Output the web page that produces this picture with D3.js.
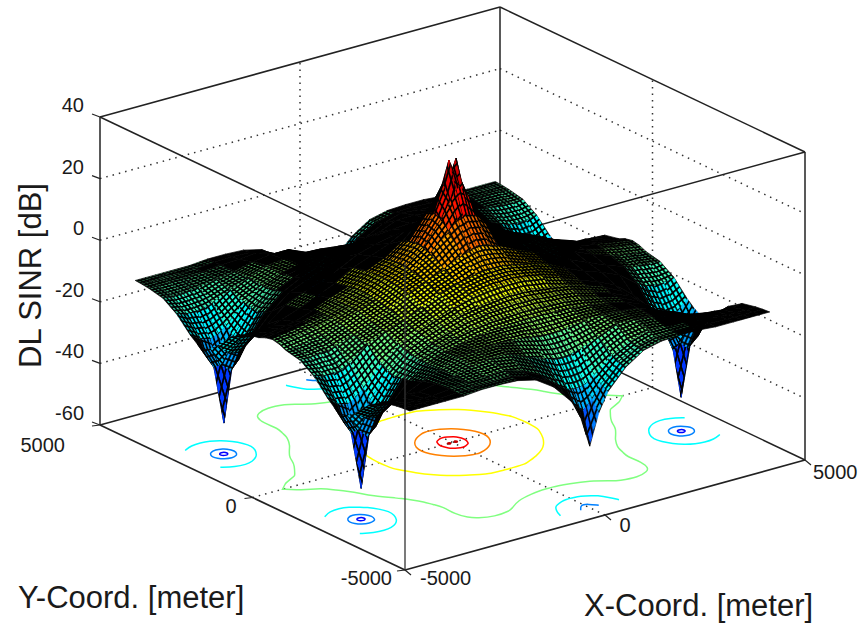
<!DOCTYPE html>
<html>
<head>
<meta charset="utf-8">
<script src="https://cdnjs.cloudflare.com/ajax/libs/d3/7.8.5/d3.min.js"></script>
<style>
  html, body { margin: 0; padding: 0; background: #fff; }
  text { font-family: "Liberation Sans", Arial, sans-serif; fill: #1a1a1a; }
</style>
</head>
<body>
<svg id="sketch" width="865" height="623"></svg>
<script>
// grid nodes of the surface, finer around the spikes (meter)
const xNodes = [-4500,-4250,-4000,-3800,-3600,-3150,-2700,-2250,-1800,-1350,-900,-450,-225,-90,0,90,225,450,900,1350,1800,2250,2700,3150,3600,3800,4000,4250,4500];
const yNodes = [-4500,-4275,-4050,-3600,-3150,-2700,-2475,-2250,-2025,-1800,-1350,-900,-450,-225,0,225,450,900,1350,1800,2025,2250,2475,2700,3150,3600,4050,4275,4500];

// DL SINR [dB], one row per yNodes entry
const sinrRows = [
[-12.5,-12.5,-12.5,-12.5,-12.5,-12.5,-12,-12,-12.3,-13.7,-17.6,-24,-30,-36,-40,-36,-30,-24,-17.6,-13.7,-12.3,-12,-12,-12.5,-12.5,-12.5,-12.5,-12.5,-12.5],
[-12.7,-12.7,-12.7,-12.7,-12.7,-12.5,-12,-11.8,-12,-13.5,-16.8,-22.7,-26.6,-28.6,-29.6,-28.6,-26.6,-22.7,-16.8,-13.5,-12,-11.8,-12,-12.5,-12.7,-12.7,-12.7,-12.7,-12.7],
[-13,-13,-13,-13,-12.9,-12.4,-11.8,-11.5,-11,-12.9,-15.8,-20.7,-23,-23.4,-23.5,-23.4,-23,-20.7,-15.8,-12.9,-11,-11.5,-11.8,-12.4,-12.9,-13,-13,-13,-13],
[-14,-14.4,-14.3,-14,-13.8,-12.7,-11.8,-10.2,-9.5,-9.5,-12,-14.3,-15.2,-15.4,-15.5,-15.4,-15.2,-14.3,-12,-9.5,-9.5,-10.2,-11.8,-12.7,-13.8,-14,-14.3,-14.4,-14],
[-17,-18,-18,-17.7,-16.7,-14,-11.8,-9.5,-8.8,-8.5,-8.8,-9.5,-9.9,-10,-10,-10,-9.9,-9.5,-8.8,-8.5,-8.8,-9.5,-11.8,-14,-16.7,-17.7,-18,-18,-17],
[-21.7,-24,-25,-24,-22,-16,-12,-9.8,-8.5,-7.5,-6.8,-6.6,-6.5,-6.5,-6.5,-6.5,-6.5,-6.6,-6.8,-7.5,-8.5,-9.8,-12,-16,-22,-24,-25,-24,-21.7],
[-23.5,-29,-32,-29.5,-24.5,-16.7,-12,-9.2,-7.8,-6.4,-5.5,-5.3,-5,-5,-5,-5,-5,-5.3,-5.5,-6.4,-7.8,-9.2,-12,-16.7,-24.5,-29.5,-32,-29,-23.5],
[-24.5,-31,-50,-33,-26,-17,-11.5,-9,-7,-5.2,-4.3,-3.7,-3.5,-3.5,-3.5,-3.5,-3.5,-3.7,-4.3,-5.2,-7,-9,-11.5,-17,-26,-33,-49,-31,-24.5],
[-23,-29,-32,-29,-24,-16,-11,-8,-6,-4.2,-3.2,-2.4,-2,-2,-2,-2,-2,-2.4,-3.2,-4.2,-6,-8,-11,-16,-24,-29,-32,-29,-23],
[-21,-24,-25,-23.5,-21,-14.8,-10,-7.4,-5.2,-3.2,-1,0,0.2,0.2,0.3,0.2,0.2,0,-1,-3.2,-5.2,-7.4,-10,-14.8,-21,-23.5,-25,-24,-21],
[-16,-17,-17,-16.5,-15,-10.5,-8,-6,-3.5,-0.5,1.2,2.5,3,3,3,3,3,2.5,1.2,-0.5,-3.5,-6,-8,-10.5,-15,-16.5,-17,-17,-16],
[-13,-13,-12.5,-12.5,-11.5,-9.5,-7,-4.5,-1,1.2,3.5,6.5,7.5,8,8,8,7.5,6.5,3.5,1.2,-1,-4.5,-7,-9.5,-11.5,-12.5,-12.5,-13,-13],
[-12,-11.5,-11,-10.5,-10,-8,-5.5,-3.5,0,2.5,6.5,12,15,15.5,16,15.5,15,12,6.5,2.5,0,-3.5,-5.5,-8,-10,-10.5,-11,-11.5,-12],
[-11,-10.5,-10,-9.5,-9,-7.5,-5.5,-3,0.2,3,7.5,15,20,23,24,23,20,15,7.5,3,0.2,-3,-5.5,-7.5,-9,-9.5,-10,-10.5,-11],
[-10.5,-10,-9.5,-9,-8.5,-7.5,-5.5,-3,0.3,3,8,16,24,32,29,32,24,16,8,3,0.3,-3,-5.5,-7.5,-8.5,-9,-9.5,-10,-10.5],
[-11,-10.5,-10,-9.5,-9,-7.5,-5.5,-3,0.2,3,7.5,15,20,23,24,23,20,15,7.5,3,0.2,-3,-5.5,-7.5,-9,-9.5,-10,-10.5,-11],
[-12,-11.5,-11,-10.5,-10,-8,-5.5,-3.5,0,2.5,6.5,12,15,15.5,16,15.5,15,12,6.5,2.5,0,-3.5,-5.5,-8,-10,-10.5,-11,-11.5,-12],
[-13,-13,-12.5,-12.5,-11.5,-9.5,-7,-4.5,-1,1.2,3.5,6.5,7.5,8,8,8,7.5,6.5,3.5,1.2,-1,-4.5,-7,-9.5,-11.5,-12.5,-12.5,-13,-13],
[-16,-17,-17,-16.5,-15,-10.5,-8,-6,-3.5,-0.5,1.2,2.5,3,3,3,3,3,2.5,1.2,-0.5,-3.5,-6,-8,-10.5,-15,-16.5,-17,-17,-16],
[-21,-24,-25,-23.5,-21,-14.8,-10,-7.4,-5.2,-3.2,-1,0,0.2,0.2,0.3,0.2,0.2,0,-1,-3.2,-5.2,-7.4,-10,-14.8,-21,-23.5,-25,-24,-21],
[-23,-29,-32,-29,-24,-16,-11,-8,-6,-4.2,-3.2,-2.4,-2,-2,-2,-2,-2,-2.4,-3.2,-4.2,-6,-8,-11,-16,-24,-29,-32,-29,-23],
[-24.5,-31,-50,-33,-26,-17,-11.5,-9,-7,-5.2,-4.3,-3.7,-3.5,-3.5,-3.5,-3.5,-3.5,-3.7,-4.3,-5.2,-7,-9,-11.5,-17,-26,-33,-50,-31,-24.5],
[-23.5,-29,-32,-29.5,-24.5,-16.7,-12,-9.2,-7.8,-6.4,-5.5,-5.3,-5,-5,-5,-5,-5,-5.3,-5.5,-6.4,-7.8,-9.2,-12,-16.7,-24.5,-29.5,-32,-29,-23.5],
[-21.7,-24,-25,-24,-22,-16,-12,-9.8,-8.5,-7.5,-6.8,-6.6,-6.5,-6.5,-6.5,-6.5,-6.5,-6.6,-6.8,-7.5,-8.5,-9.8,-12,-16,-22,-24,-25,-24,-21.7],
[-17,-18,-18,-17.7,-16.7,-14,-11.8,-9.5,-8.8,-8.5,-8.8,-9.5,-9.9,-10,-10,-10,-9.9,-9.5,-8.8,-8.5,-8.8,-9.5,-11.8,-14,-16.7,-17.7,-18,-18,-17],
[-14,-14.4,-14.3,-14,-13.8,-12.7,-11.8,-10.2,-9.5,-9.5,-12,-14.3,-15.2,-15.4,-15.5,-15.4,-15.2,-14.3,-12,-9.5,-9.5,-10.2,-11.8,-12.7,-13.8,-14,-14.3,-14.4,-14],
[-13,-13,-13,-13,-12.9,-12.4,-11.8,-11.5,-11,-12.9,-15.8,-20.7,-23,-23.4,-23.5,-23.4,-23,-20.7,-15.8,-12.9,-11,-11.5,-11.8,-12.4,-12.9,-13,-13,-13,-13],
[-12.7,-12.7,-12.7,-12.7,-12.7,-12.5,-12,-11.8,-12,-13.5,-16.8,-22.7,-26.6,-28.6,-29.6,-28.6,-26.6,-22.7,-16.8,-13.5,-12,-11.8,-12,-12.5,-12.7,-12.7,-12.7,-12.7,-12.7],
[-12.5,-12.5,-12.5,-12.5,-12.5,-12.5,-12,-12,-12.3,-13.7,-17.6,-24,-30,-36,-40,-36,-30,-24,-17.6,-13.7,-12.3,-12,-12,-12.5,-12.5,-12.5,-12.5,-12.5,-12.5]
];

const zTicks = [-60,-40,-20,0,20,40];
const xyTicks = [-5000,0,5000];
const contourLevels = [-40,-30,-20,-10,0,10,20,30];
const jetLevels = [-50,-40,-20,0,20,40];
const jetColors = ['#00008f','#0000ff','#00ffff','#ffff00','#ff0000','#800000'];

// one mesh line every 90 m, as far as can be seen on the picture
const meshStep = 90;
const meshLineWidth = 1.75;
const minHole = 16;

// orthographic box: front floor corner is (405,570)
const xToSx = d3.scaleLinear().domain([-5000,5000]).range([405,805]);
const yToSx = d3.scaleLinear().domain([-5000,5000]).range([0,-305]);
const xToSy = d3.scaleLinear().domain([-5000,5000]).range([570,460]);
const yToSy = d3.scaleLinear().domain([-5000,5000]).range([0,-145]);
const zToSy = d3.scaleLinear().domain([-60,40]).range([0,-308]);
const zColor = d3.scaleLinear().domain(jetLevels).range(jetColors).clamp(true);

function project (x, y, z) {
    return [xToSx(x) + yToSx(y), xToSy(x) + yToSy(y) + zToSy(z)];
}

function seg (a, b) {
    return { x1: a[0], y1: a[1], x2: b[0], y2: b[1] };
}

function drawLines (g, cls, data, stroke, width, dash) {
    g.selectAll('line.' + cls)
        .data(data)
        .enter()
        .append('line')
        .attr('class', cls)
        .attr('x1', (d) => { return d.x1; })
        .attr('y1', (d) => { return d.y1; })
        .attr('x2', (d) => { return d.x2; })
        .attr('y2', (d) => { return d.y2; })
        .attr('stroke', stroke)
        .attr('stroke-width', width)
        .attr('stroke-dasharray', dash || null);
}

function drawBackWalls (svg) {
    let g = svg.append('g').attr('class', 'walls');
    let dotted = [];

    zTicks.slice(1, -1).forEach((z) => {
        dotted.push(seg(project(-5000, 5000, z), project(5000, 5000, z)));
        dotted.push(seg(project(5000, 5000, z), project(5000, -5000, z)));
    });
    dotted.push(seg(project(0, 5000, -60), project(0, 5000, 40)));
    dotted.push(seg(project(5000, 0, -60), project(5000, 0, 40)));
    dotted.push(seg(project(0, -5000, -60), project(0, 5000, -60)));
    dotted.push(seg(project(-5000, 0, -60), project(5000, 0, -60)));
    drawLines(g, 'grid', dotted, '#333', 1.5, '1.5 5');

    let solid = [
        seg(project(-5000, 5000, -60), project(5000, 5000, -60)),
        seg(project(5000, 5000, -60), project(5000, -5000, -60)),
        seg(project(-5000, 5000, 40), project(5000, 5000, 40)),
        seg(project(5000, 5000, 40), project(5000, -5000, 40)),
        seg(project(5000, 5000, -60), project(5000, 5000, 40)),
        seg(project(-5000, 5000, -60), project(-5000, 5000, 40)),
        seg(project(5000, -5000, -60), project(5000, -5000, 40)),
        seg(project(-5000, -5000, 40), project(-5000, 5000, 40)),
        seg(project(-5000, -5000, 40), project(5000, -5000, 40))
    ];
    drawLines(g, 'edge', solid, '#222', 1.5);
}

function drawContours (svg) {
    let g = svg.append('g').attr('class', 'contours');
    let nx = xNodes.length;
    let ny = yNodes.length;
    let xAt = d3.scaleLinear().domain(d3.range(nx)).range(xNodes).clamp(true);
    let yAt = d3.scaleLinear().domain(d3.range(ny)).range(yNodes).clamp(true);
    let sets = d3.contours().size([nx, ny]).thresholds(contourLevels)(sinrRows.flat());
    let open = d3.line().curve(d3.curveBasis);
    let closed = d3.line().curve(d3.curveBasisClosed);

    sets.forEach((set) => {
        let paths = [];
        set.coordinates.forEach((poly) => {
            poly.forEach((ring) => {
                // the library closes rings along the grid border, those parts are no contour
                let onBorder = (p) => { return p[0] <= 0 || p[0] >= nx || p[1] <= 0 || p[1] >= ny; };
                let toScreen = (p) => { return project(xAt(p[0] - 0.5), yAt(p[1] - 0.5), -60); };
                if (!ring.some(onBorder)) {
                    paths.push(closed(ring.slice(0, -1).map(toScreen)));
                    return;
                }
                let start = ring.findIndex(onBorder);
                let piece = [];
                for (let k = 0; k <= ring.length; k++) {
                    let p = ring[(start + k) % ring.length];
                    if (onBorder(p)) {
                        if (piece.length > 1) paths.push(open(piece));
                        piece = [];
                    } else {
                        piece.push(toScreen(p));
                    }
                }
            });
        });
        g.selectAll(null)
            .data(paths)
            .enter()
            .append('path')
            .attr('d', (d) => { return d; })
            .attr('fill', 'none')
            .attr('stroke', zColor(set.value))
            .attr('stroke-width', 1.5);
    });
}

function makeCells () {
    let cells = [];
    // far corner first, nearer cells paint over it
    for (let j = yNodes.length - 2; j >= 0; j--) {
        for (let i = xNodes.length - 2; i >= 0; i--) {
            let p00 = project(xNodes[i], yNodes[j], sinrRows[j][i]);
            let p10 = project(xNodes[i + 1], yNodes[j], sinrRows[j][i + 1]);
            let p11 = project(xNodes[i + 1], yNodes[j + 1], sinrRows[j + 1][i + 1]);
            let p01 = project(xNodes[i], yNodes[j + 1], sinrRows[j + 1][i]);
            let n = (xNodes[i + 1] - xNodes[i]) / meshStep;
            let m = (yNodes[j + 1] - yNodes[j]) / meshStep;
            // one mesh square of this cell, as it lands on the screen
            let ax = (p10[0] - p00[0] + p11[0] - p01[0]) / 2 / n;
            let ay = (p10[1] - p00[1] + p11[1] - p01[1]) / 2 / n;
            let bx = (p01[0] - p00[0] + p11[0] - p10[0]) / 2 / m;
            let by = (p01[1] - p00[1] + p11[1] - p10[1]) / 2 / m;
            let det = Math.abs(ax * by - ay * bx);
            let holeA = 1 - meshLineWidth * Math.hypot(bx, by) / det;
            let holeB = 1 - meshLineWidth * Math.hypot(ax, ay) / det;
            cells.push({
                id: 'm' + i + '_' + j,
                pts: [p00, p10, p11, p01],
                z: (sinrRows[j][i] + sinrRows[j][i + 1] + sinrRows[j + 1][i + 1] + sinrRows[j + 1][i]) / 4,
                matrix: [ax / 100, ay / 100, bx / 100, by / 100, p00[0], p00[1]].join(' '),
                holeA: Math.max(0, holeA) * 100,
                holeB: Math.max(0, holeB) * 100
            });
        }
    }
    return cells;
}

function drawSurface (svg) {
    let cells = makeCells();
    let points = (d) => { return d.pts.map((p) => { return p.join(','); }).join(' '); };
    let hasHoles = (d) => { return d.holeA > minHole && d.holeB > minHole; };
    let paint = (d) => { return hasHoles(d) ? 'url(#' + d.id + ')' : '#000'; };

    let patterns = svg.append('defs').selectAll('pattern')
        .data(cells.filter(hasHoles))
        .enter()
        .append('pattern')
        .attr('id', (d) => { return d.id; })
        .attr('patternUnits', 'userSpaceOnUse')
        .attr('width', 100)
        .attr('height', 100)
        .attr('patternTransform', (d) => { return 'matrix(' + d.matrix + ')'; });

    patterns.append('rect')
        .attr('width', 100)
        .attr('height', 100)
        .attr('fill', '#000');

    patterns.append('rect')
        .attr('x', (d) => { return 50 - d.holeA / 2; })
        .attr('y', (d) => { return 50 - d.holeB / 2; })
        .attr('width', (d) => { return d.holeA; })
        .attr('height', (d) => { return d.holeB; })
        .attr('fill', (d) => { return zColor(d.z); });

    svg.append('g').attr('class', 'surface')
        .selectAll('polygon.cell')
        .data(cells)
        .enter()
        .append('polygon')
        .attr('class', 'cell')
        .attr('points', points)
        .attr('fill', paint)
        .attr('stroke', paint)
        .attr('stroke-width', 0.7);
}

function drawFrontEdges (svg) {
    let g = svg.append('g').attr('class', 'front');
    let edges = [
        seg(project(-5000, -5000, -60), project(-5000, 5000, -60)),
        seg(project(-5000, -5000, -60), project(5000, -5000, -60))
    ];
    drawLines(g, 'edge', edges, '#222', 1.7);
    drawLines(g, 'post', [seg(project(-5000, -5000, -60), project(-5000, -5000, 40))], '#333', 1.3);

    let ticks = [];
    zTicks.forEach((z) => {
        let p = project(-5000, 5000, z);
        ticks.push(seg(p, [p[0] - 8, p[1] - 3]));
    });
    xyTicks.forEach((v) => {
        let p = project(-5000, v, -60);
        ticks.push(seg(p, [p[0] - 8, p[1] + 1]));
        let q = project(v, -5000, -60);
        ticks.push(seg(q, [q[0] + 6, q[1] + 5]));
    });
    drawLines(g, 'tick', ticks, '#222', 1.2);
}

function drawLabels (svg) {
    let g = svg.append('g').attr('class', 'labels');
    // the floor tick labels do not keep one distance to their tick in the picture
    let yLabelDx = [-13, -16, -35];
    let yLabelDy = [15, 15, 27];
    let xLabelDx = [15, 14.5, 8];
    let xLabelDy = [15, 17, 19];

    g.selectAll('text.ztick')
        .data(zTicks)
        .enter()
        .append('text')
        .attr('class', 'ztick')
        .attr('x', 84)
        .attr('y', (d) => { return project(-5000, 5000, d)[1] - 5; })
        .attr('text-anchor', 'end')
        .attr('font-size', 20)
        .text((d) => { return d; });

    g.selectAll('text.ytick')
        .data(xyTicks)
        .enter()
        .append('text')
        .attr('class', 'ytick')
        .attr('x', (d, i) => { return project(-5000, d, -60)[0] + yLabelDx[i]; })
        .attr('y', (d, i) => { return project(-5000, d, -60)[1] + yLabelDy[i]; })
        .attr('text-anchor', 'end')
        .attr('font-size', 20)
        .text((d) => { return d; });

    g.selectAll('text.xtick')
        .data(xyTicks)
        .enter()
        .append('text')
        .attr('class', 'xtick')
        .attr('x', (d, i) => { return project(d, -5000, -60)[0] + xLabelDx[i]; })
        .attr('y', (d, i) => { return project(d, -5000, -60)[1] + xLabelDy[i]; })
        .attr('font-size', 20)
        .text((d) => { return d; });

    g.append('text')
        .attr('transform', 'translate(41,275.5) rotate(-90)')
        .attr('text-anchor', 'middle')
        .attr('font-size', 31)
        .text('DL SINR [dB]');

    g.append('text')
        .attr('x', 18)
        .attr('y', 608)
        .attr('font-size', 31)
        .text('Y-Coord. [meter]');

    g.append('text')
        .attr('x', 584)
        .attr('y', 616)
        .attr('font-size', 31)
        .text('X-Coord. [meter]');
}

function drawChart () {
    let svg = d3.select('#sketch');
    drawBackWalls(svg);
    drawContours(svg);
    drawSurface(svg);
    drawFrontEdges(svg);
    drawLabels(svg);
}

drawChart();
</script>
</body>
</html>
